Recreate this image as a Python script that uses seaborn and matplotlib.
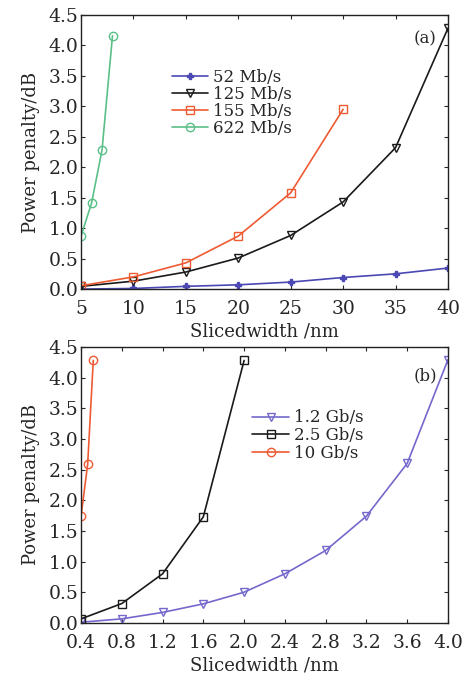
import matplotlib
matplotlib.use("Agg")
import matplotlib.pyplot as plt
import seaborn as sns
import pandas as pd

# panel (a): slice width in nm, penalty in dB
x_52 = [5, 10, 15, 20, 25, 30, 35, 40]
y_52 = [0.0, 0.01, 0.045, 0.07, 0.115, 0.19, 0.25, 0.345]
x_125 = [5, 10, 15, 20, 25, 30, 35, 40]
y_125 = [0.045, 0.13, 0.28, 0.51, 0.88, 1.43, 2.32, 4.28]
x_155 = [5, 10, 15, 20, 25, 30]
y_155 = [0.055, 0.2, 0.43, 0.87, 1.58, 2.95]
x_622 = [5, 6, 7, 8]
y_622 = [0.87, 1.41, 2.28, 4.16]

# panel (b)
x_12g = [0.4, 0.8, 1.2, 1.6, 2.0, 2.4, 2.8, 3.2, 3.6, 4.0]
y_12g = [0.01, 0.065, 0.17, 0.31, 0.5, 0.8, 1.18, 1.74, 2.6, 4.29]
x_25g = [0.4, 0.8, 1.2, 1.6, 2.0]
y_25g = [0.065, 0.315, 0.8, 1.73, 4.28]
x_10g = [0.40, 0.465, 0.52]
y_10g = [1.74, 2.59, 4.28]

sns.set_style("ticks")
plt.rcParams['font.family'] = ['DejaVu Serif']
plt.rcParams['xtick.direction'] = 'in'
plt.rcParams['ytick.direction'] = 'in'

fig = plt.figure(figsize=(4.74, 6.77), dpi=100)
ax1 = fig.add_axes([0.171, 0.573, 0.774, 0.405])
ax2 = fig.add_axes([0.171, 0.080, 0.774, 0.4075])

series_a = [
    ("52 Mb/s", x_52, y_52, "#4b48b4", "P", 4),
    ("125 Mb/s", x_125, y_125, "#1a1a1a", "v", 6),
    ("155 Mb/s", x_155, y_155, "#ee5a32", "s", 6),
    ("622 Mb/s", x_622, y_622, "#5bbf88", "o", 6),
]
for name, xs, ys, col, mk, ms in series_a:
    df = pd.DataFrame({"x": xs, "y": ys})
    sns.lineplot(data=df, x="x", y="y", ax=ax1, color=col, marker=mk,
                 markersize=ms, markerfacecolor="none" if mk != "P" else col,
                 markeredgecolor=col, markeredgewidth=1.0, linewidth=1.2,
                 label=name)

series_b = [
    ("1.2 Gb/s", x_12g, y_12g, "#7468cc", "v", 6),
    ("2.5 Gb/s", x_25g, y_25g, "#1a1a1a", "s", 6),
    ("10 Gb/s", x_10g, y_10g, "#ee5a32", "o", 6),
]
for name, xs, ys, col, mk, ms in series_b:
    df = pd.DataFrame({"x": xs, "y": ys})
    sns.lineplot(data=df, x="x", y="y", ax=ax2, color=col, marker=mk,
                 markersize=ms, markerfacecolor="none",
                 markeredgecolor=col, markeredgewidth=1.0, linewidth=1.2,
                 label=name)

ax1.set_xlim(5, 40)
ax1.set_xticks([5, 10, 15, 20, 25, 30, 35, 40])
ax2.set_xlim(0.4, 4.0)
ax2.set_xticks([0.4, 0.8, 1.2, 1.6, 2.0, 2.4, 2.8, 3.2, 3.6, 4.0])
ax2.set_xticklabels(["0.4", "0.8", "1.2", "1.6", "2.0", "2.4", "2.8", "3.2", "3.6", "4.0"])

for ax in (ax1, ax2):
    ax.set_ylim(0, 4.5)
    ax.set_yticks([0.0, 0.5, 1.0, 1.5, 2.0, 2.5, 3.0, 3.5, 4.0, 4.5])
    ax.set_yticklabels([f"{v:.1f}" for v in ax.get_yticks()])
    ax.tick_params(direction="in", top=True, right=True, length=3,
                   width=0.8, labelsize=13.5)
    ax.tick_params(axis="x", pad=8)
    ax.tick_params(axis="y", pad=2)
    for s in ax.spines.values():
        s.set_linewidth(1.0)
        s.set_color("#222222")
    ax.set_xlabel("Slicedwidth /nm", fontsize=13, labelpad=3)
    ax.set_ylabel("Power penalty/dB", fontsize=13, labelpad=6)

ax1.text(0.97, 0.945, "(a)", transform=ax1.transAxes, ha="right", va="top", fontsize=12)
ax2.text(0.97, 0.925, "(b)", transform=ax2.transAxes, ha="right", va="top", fontsize=12)

ax1.legend(loc="upper left", bbox_to_anchor=(0.22, 0.84), frameon=False,
           fontsize=12, handlelength=2.2, handletextpad=0.3, labelspacing=0.0,
           borderpad=0.1)
ax2.legend(loc="upper left", bbox_to_anchor=(0.44, 0.81), frameon=False,
           fontsize=12, handlelength=2.2, handletextpad=0.3, labelspacing=0.05,
           borderpad=0.1)

fig.savefig("out.png", dpi=100, facecolor="white")
